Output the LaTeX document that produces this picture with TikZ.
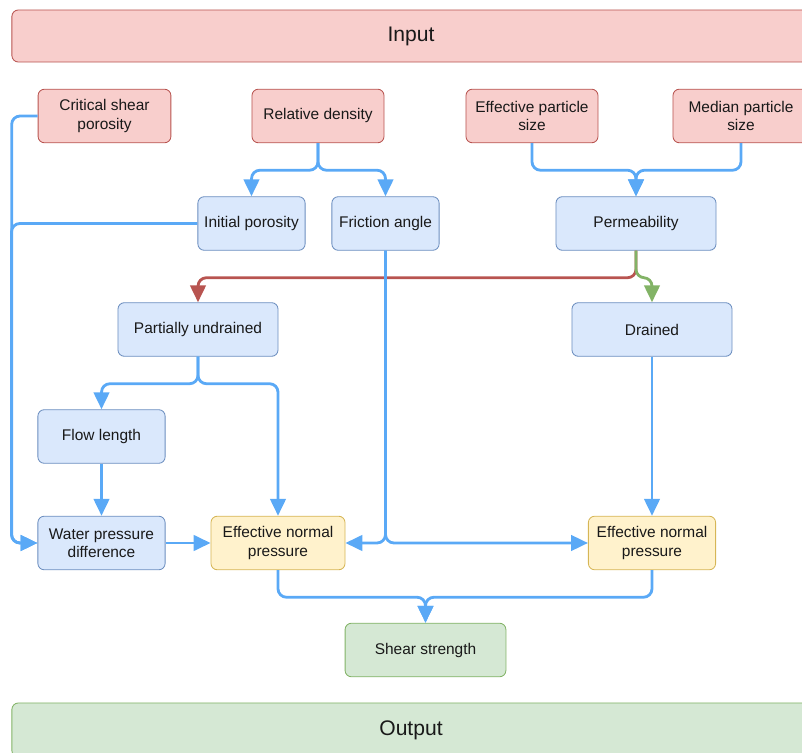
\documentclass[tikz,border=0pt]{standalone}
\usepackage{fontspec}
\setmainfont{Liberation Sans}
\usetikzlibrary{arrows.meta,positioning}

\definecolor{redfill}{HTML}{F8CECC}
\definecolor{redline}{HTML}{B85450}
\definecolor{bluefill}{HTML}{DAE8FC}
\definecolor{blueline}{HTML}{6C8EBF}
\definecolor{yellowfill}{HTML}{FFF2CC}
\definecolor{yellowline}{HTML}{D6B656}
\definecolor{greenfill}{HTML}{D5E8D4}
\definecolor{greenline}{HTML}{82B366}
\definecolor{flowblue}{HTML}{5AA9F6}

\begin{document}
\begin{tikzpicture}[
    x=0.025cm, y=-0.025cm,
    >={Triangle[length=12pt,width=11pt]},
    font=\fontsize{11}{13}\selectfont,
    box/.style={
        draw,
        rounded corners=1.6mm,
        line width=0.6pt,
        minimum height=1.34cm,
        align=center,
        text=black!90
    },
    inbox/.style={box, fill=redfill, draw=redline},
    midbox/.style={box, fill=bluefill, draw=blueline},
    pbox/.style={box, fill=yellowfill, draw=yellowline},
    outbox/.style={box, fill=greenfill, draw=greenline},
    band/.style={minimum width=19.95cm, font=\fontsize{15}{18}\selectfont},
    arr/.style={->, line width=2pt, draw=flowblue, rounded corners=6pt},
    arrred/.style={arr, draw=redline},
    arrgreen/.style={arr, draw=greenline}
]
\useasboundingbox (0,0) rectangle (802,753);
\clip (0,0) rectangle (802,753);

% input and output bands
\node[inbox, band, minimum height=1.3cm] (input) at (411,36) {Input};
\node[outbox, band, minimum height=1.35cm] (output) at (411,730) {Output};

% input parameters
\node[inbox, minimum width=3.32cm] (crit) at (104.5,116) {Critical shear\\porosity};
\node[inbox, minimum width=3.3cm] (reld) at (318,116) {Relative density};
\node[inbox, minimum width=3.3cm] (effsize) at (532,116) {Effective particle\\size};
\node[inbox, minimum width=3.4cm] (medsize) at (741,116) {Median particle\\size};

% second row
\node[midbox, minimum width=2.68cm] (initpor) at (251.5,223.5) {Initial porosity};
\node[midbox, minimum width=2.68cm] (friction) at (385.5,223.5) {Friction angle};
\node[midbox, minimum width=4cm] (perm) at (636,223.5) {Permeability};

% drainage cases
\node[midbox, minimum width=4cm] (pundr) at (198,329.5) {Partially undrained};
\node[midbox, minimum width=4cm] (drained) at (652,329.5) {Drained};
\node[midbox, minimum width=3.18cm] (flowlen) at (101.5,436.5) {Flow length};

% pressures
\node[midbox, minimum width=3.18cm] (wpd) at (101.5,543) {Water pressure\\difference};
\node[pbox, minimum width=3.35cm] (enpa) at (278,543) {Effective normal\\pressure};
\node[pbox, minimum width=3.18cm] (enpb) at (652,543) {Effective normal\\pressure};

% result
\node[outbox, minimum width=4.02cm] (shear) at (425.5,650) {Shear strength};

% connectors
\draw[arr] (crit.west) -- ++(-26,0) |- (wpd.west);
\draw[arr] (initpor.west) -- ++(-186,0) |- (wpd.west);
\draw[arr] (reld.south) -- ++(0,27) -| (initpor.north);
\draw[arr] (reld.south) -- ++(0,27) -| (friction.north);
\draw[arr] (effsize.south) -- ++(0,27) -| (perm.north);
\draw[arr] (medsize.south) -- ++(0,27) -| (perm.north);
\draw[arrred] (perm.south) -- ++(0,27) -| (pundr.north);
\draw[arrgreen] (perm.south) -- ++(0,27) -| (drained.north);
\draw[arr] (friction.south) |- (enpa.east);
\draw[arr] (friction.south) |- (enpb.west);
\draw[arr] (pundr.south) -- ++(0,27) -| (flowlen.north);
\draw[arr] (pundr.south) -- ++(0,27) -| (enpa.north);
\draw[arr] (flowlen) -- (wpd);
\draw[arr] (wpd) -- (enpa);
\draw[arr] (drained) -- (enpb);
\draw[arr] (enpa.south) -- ++(0,27) -| (shear.north);
\draw[arr] (enpb.south) -- ++(0,27) -| (shear.north);

\end{tikzpicture}
\end{document}
